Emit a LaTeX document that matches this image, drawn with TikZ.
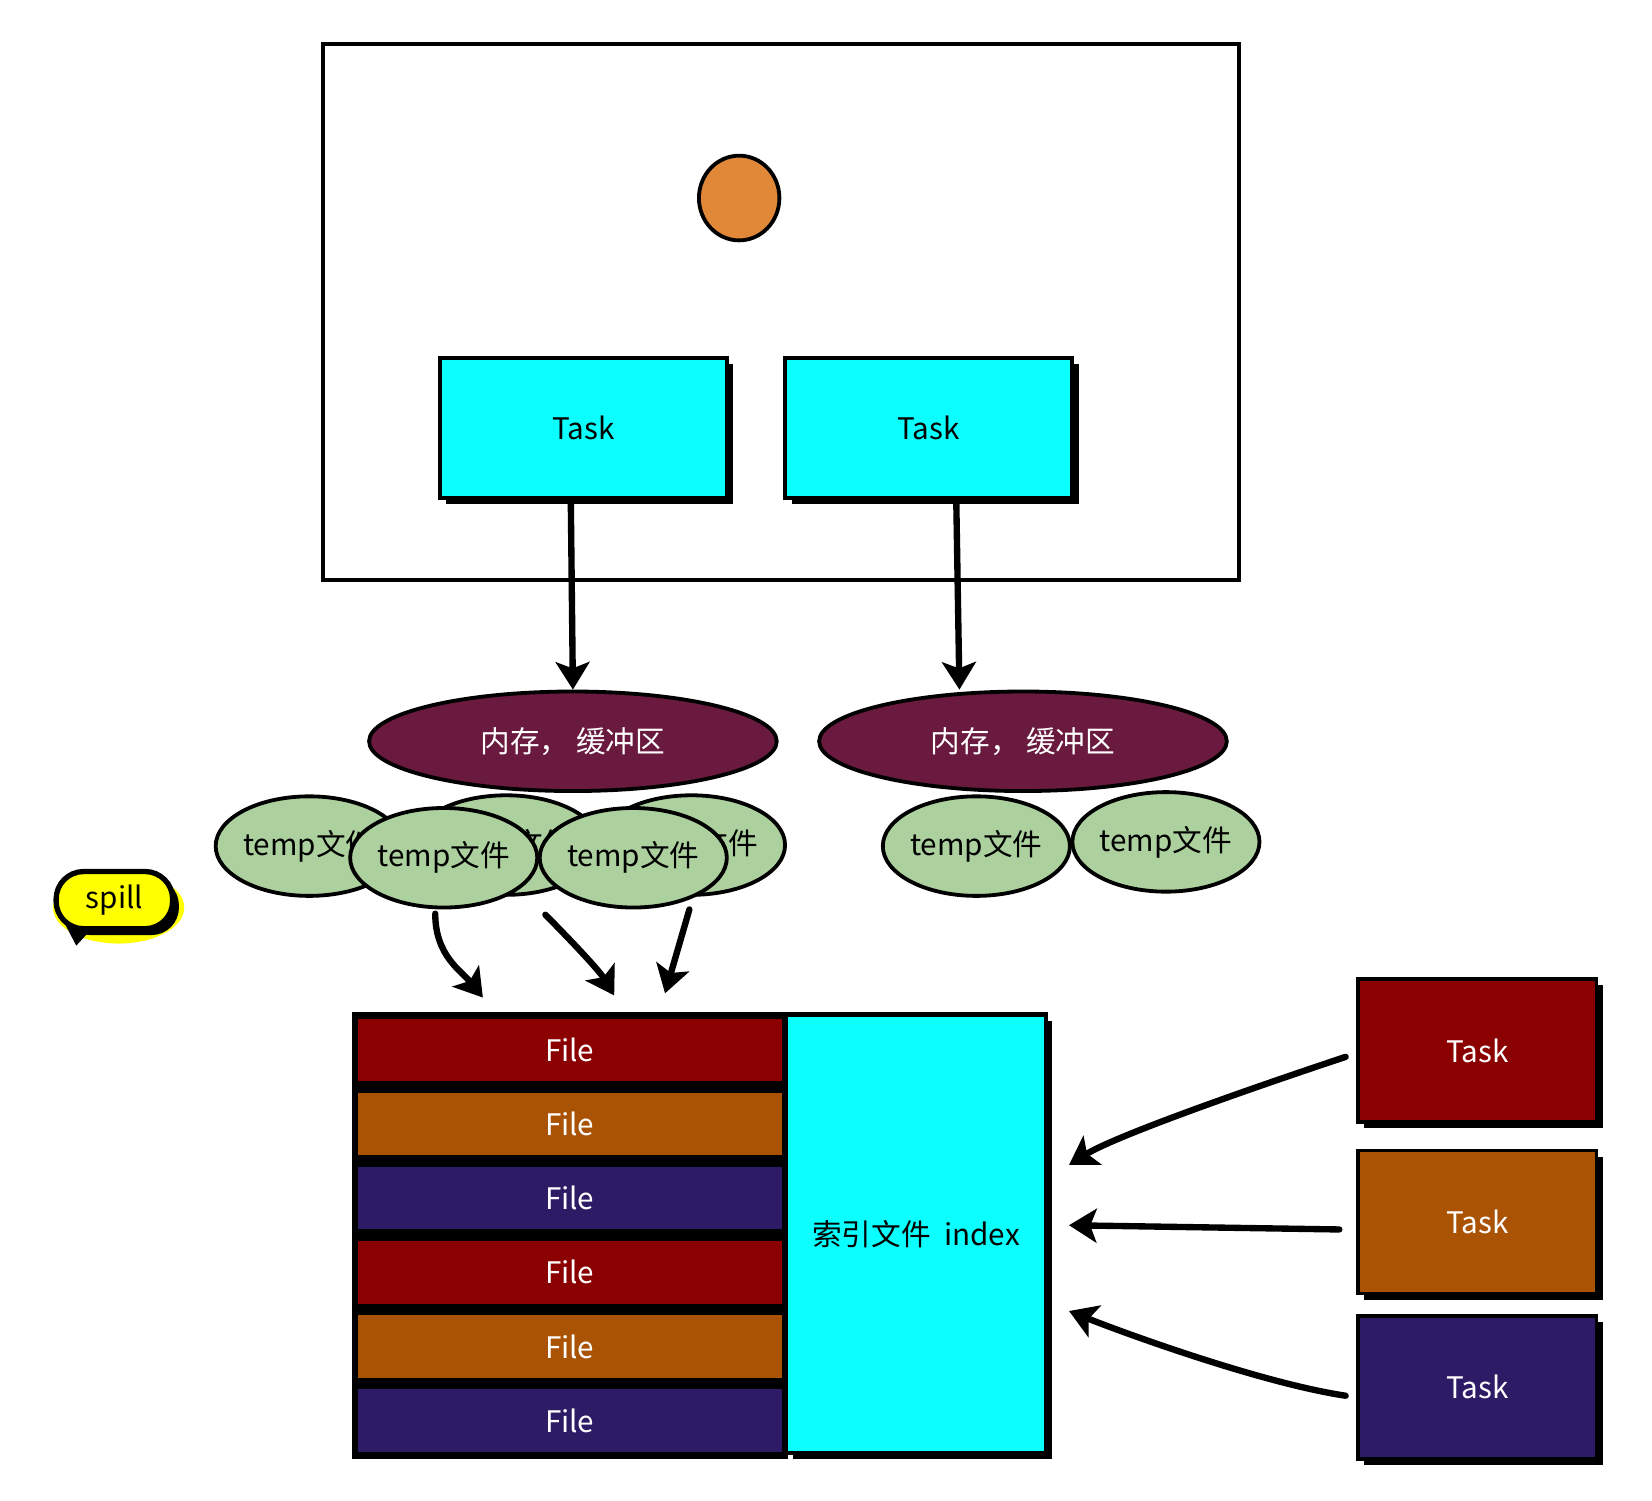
\documentclass[tikz,border=0pt]{standalone}
\usepackage{fontspec}
\setmainfont{Noto Sans CJK SC}
\usetikzlibrary{arrows.meta,shapes.geometric,shadows}

\definecolor{cyanbox}{RGB}{12,255,255}
\definecolor{membuf}{RGB}{105,26,62}
\definecolor{tempgreen}{RGB}{172,209,158}
\definecolor{orangedot}{RGB}{224,136,55}
\definecolor{darkred}{RGB}{139,0,0}
\definecolor{rust}{RGB}{170,83,4}
\definecolor{indigo}{RGB}{46,27,102}
\definecolor{spillyellow}{RGB}{255,255,0}

\newcommand{\lblfont}{\fontsize{14}{17}\selectfont}

\tikzset{
  sketch/.style={draw=black, line width=1.8pt},
  boxshadow/.style={drop shadow={shadow xshift=3pt, shadow yshift=-3pt, fill=black, opacity=1}},
  taskbox/.style={sketch, boxshadow, fill=cyanbox, minimum width=135.5pt, minimum height=66pt, inner sep=0pt, font=\lblfont},
  sidetask/.style={sketch, boxshadow, text=white, minimum width=112.5pt, minimum height=67.5pt, inner sep=0pt, font=\lblfont},
  membox/.style={sketch, ellipse, fill=membuf, text=white, minimum width=192.5pt, minimum height=47pt, inner sep=0pt, font=\lblfont},
  tempfile/.style={sketch, ellipse, fill=tempgreen, minimum width=87pt, minimum height=47pt, inner sep=0pt, font=\lblfont},
  filebox/.style={text=white, minimum width=200pt, minimum height=29.5pt, inner sep=0pt, font=\lblfont},
  indexbox/.style={draw=black, line width=2pt, boxshadow, fill=cyanbox, minimum width=122.5pt, minimum height=207pt, inner sep=0pt, font=\lblfont},
  flow/.style={line width=3pt, line cap=round, -{Stealth[length=13pt,width=16pt,inset=3pt]}}
}

\begin{document}
\begin{tikzpicture}[x=0.5pt,y=0.5pt,yscale=-1,xscale=1]
	\useasboundingbox (0,0) rectangle (1560,1417);
	
	% frame with the two tasks
	\draw[line width=1.9pt] (305,42) rectangle (1170,548);
	\node[sketch, ellipse, fill=orangedot, minimum width=38pt, minimum height=40pt, inner sep=0pt] (dot) at (698,187) {};
	\node[taskbox] (task1) at (551,404) {Task};
	\node[taskbox] (task2) at (877,404) {Task};
	
	% memory buffers
	\node[membox] (mem1) at (541,700) {内存，\ 缓冲区};
	\node[membox] (mem2) at (966,700) {内存，\ 缓冲区};
	\draw[flow] ([xshift=-6pt]task1.south) -- (mem1.north);
	\draw[flow] ([xshift=13pt]task2.south) -- ([xshift=-30pt]mem2.north);
	
	% temp files
	\node[tempfile] (tmpL) at (292,799) {temp文件};
	\node[tempfile] (tmpM) at (478,798) {temp文件};
	\node[tempfile] (tmpR) at (653,798) {temp文件};
	\node[tempfile] (tmpA) at (419,810) {temp文件};
	\node[tempfile] (tmpB) at (598,810) {temp文件};
	\node[tempfile] (tmpC) at (922,799) {temp文件};
	\node[tempfile] (tmpD) at (1101,795) {temp文件};
	
	% spill tag
	\fill[spillyellow] (112,857) ellipse (62 and 34);
	\fill (58,866) -- (84,880) -- (72,893) -- cycle;
	\node[draw=black, line width=2.5pt, fill=spillyellow, rounded corners=13pt, boxshadow, minimum width=55pt, minimum height=27pt, inner sep=0pt, font=\lblfont] (spill) at (108,850) {spill};
	
	% spill arrows
	\coordinate (tipA) at (456,942);
	\coordinate (tipB) at (580,940);
	\coordinate (tipC) at (628,938);
	\draw[flow] ([xshift=-4pt,yshift=2pt]tmpA.south) .. controls +(0,40) and +(-20,-25) .. (tipA);
	\draw[flow] ([xshift=18.5pt,yshift=8.5pt]tmpM.south) .. controls +(15,15) and +(-15,-25) .. (tipB);
	\draw[flow] ([xshift=-1pt,yshift=6pt]tmpR.south) -- (tipC);
	
	% files and index
	\fill (332,956) rectangle (744,1378);
	\foreach \c [count=\i from 0] in {darkred,rust,indigo,darkred,rust,indigo}
		\node[filebox, fill=\c] (file\i) at (538,{991.5+70*\i}) {File};
	\node[indexbox] (idx) at (865,1165) {索引文件\ \ index};
	
	% reading tasks
	\node[sidetask, fill=darkred] (rtask1) at (1395,992) {Task};
	\node[sidetask, fill=rust] (rtask2) at (1395,1154) {Task};
	\node[sidetask, fill=indigo] (rtask3) at (1395,1310) {Task};
	\draw[flow] ([xshift=-5pt,yshift=3pt]rtask1.west) .. controls +(-120,40) and +(40,-25) .. ([xshift=10pt,yshift=-32.5pt]idx.east);
	\draw[flow] ([xshift=-8pt,yshift=3.5pt]rtask2.west) -- ([xshift=10pt,yshift=-4pt]idx.east);
	\draw[flow] ([xshift=-5pt,yshift=4pt]rtask3.west) .. controls +(-80,-12) and +(50,20) .. ([xshift=10pt,yshift=36.5pt]idx.east);
	
\end{tikzpicture}
\end{document}
